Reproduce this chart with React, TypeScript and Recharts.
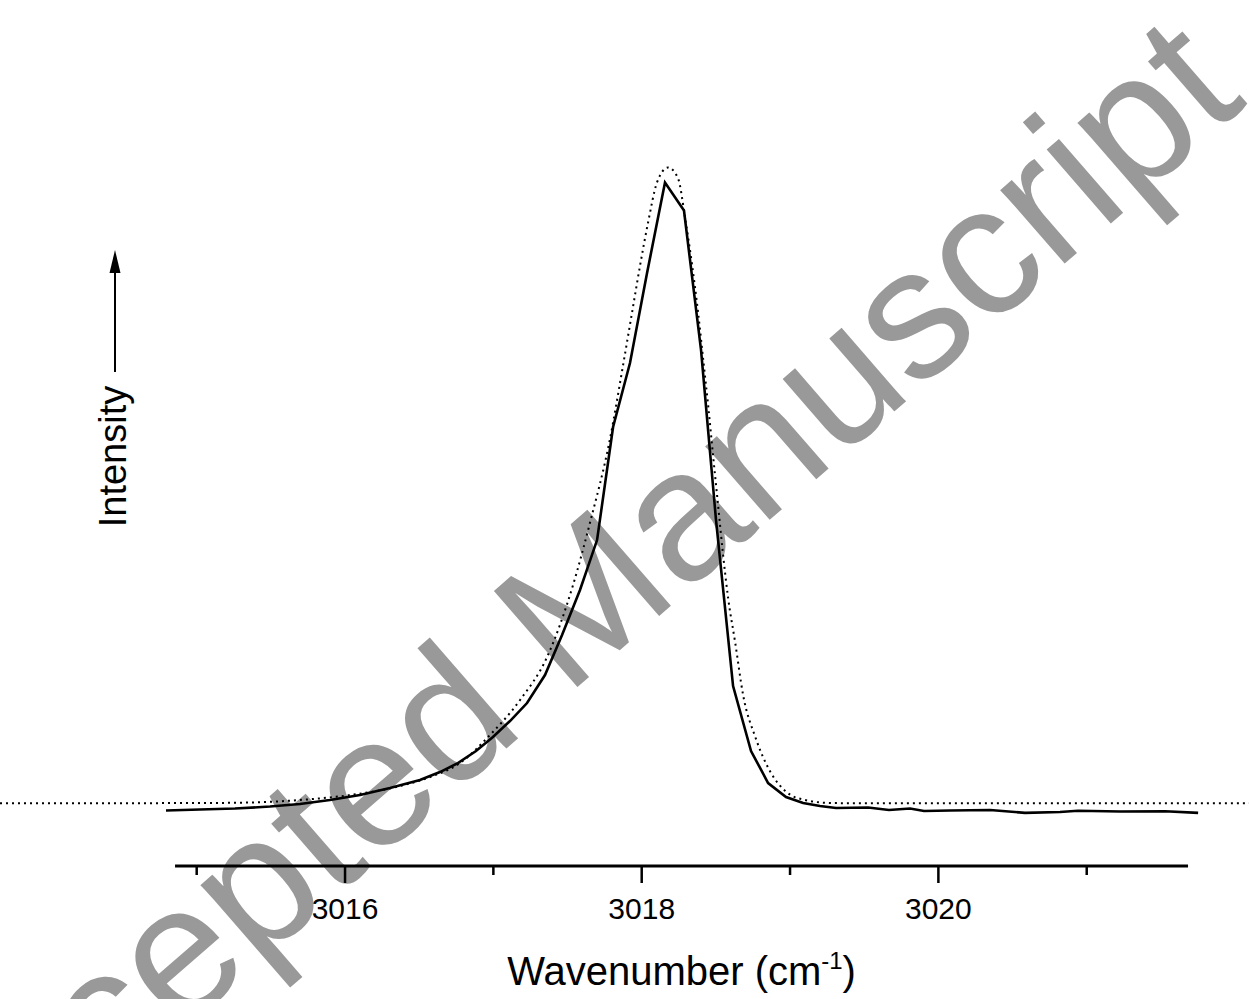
import React from 'react';
import { LineChart, Line, XAxis, YAxis, ReferenceLine, Label } from 'recharts';

// measured band (solid line)
const measuredX = [
  3014.793, 3015.022, 3015.258, 3015.494, 3015.696, 3015.898, 3016.101, 3016.303, 3016.505,
  3016.640, 3016.761, 3016.883, 3016.997, 3017.112, 3017.227, 3017.348, 3017.463, 3017.584,
  3017.699, 3017.807, 3017.921, 3018.036, 3018.157, 3018.285, 3018.400, 3018.501, 3018.616,
  3018.737, 3018.852, 3018.973, 3019.088, 3019.202, 3019.310, 3019.526, 3019.667, 3019.809,
  3019.903, 3020.079, 3020.348, 3020.584, 3020.820, 3020.941, 3021.225, 3021.528, 3021.751,
];
const measuredY = [
  -0.0115, -0.0099, -0.0083, -0.0051, -0.0011, 0.0053, 0.0132, 0.0244, 0.0372,
  0.0499, 0.0643, 0.0835, 0.1058, 0.1313, 0.16, 0.2047, 0.2686, 0.3404,
  0.4201, 0.6005, 0.7026, 0.8462, 0.9906, 0.9459, 0.7233, 0.452, 0.1872,
  0.0835, 0.0324, 0.0101, 0.0005, -0.0043, -0.0075, -0.0067, -0.0107, -0.0083,
  -0.0123, -0.0115, -0.0107, -0.0152, -0.0139, -0.0118, -0.0131, -0.0126, -0.0152,
];

// fitted profile (dotted line)
const fitX = [
  3013.674, 3015.022, 3015.359, 3015.696, 3016.033, 3016.371, 3016.573, 3016.775, 3016.977,
  3017.18, 3017.362, 3017.537, 3017.652, 3017.787, 3017.874, 3017.935, 3017.989, 3018.043,
  3018.103, 3018.178, 3018.245, 3018.293, 3018.34, 3018.38, 3018.421, 3018.448, 3018.481,
  3018.515, 3018.549, 3018.583, 3018.63, 3018.684, 3018.765, 3018.866, 3018.981, 3019.102,
  3019.271, 3019.54, 3022.094,
];
const fitY = [
  0, 0.0005, 0.0013, 0.0053, 0.0132, 0.0276, 0.042, 0.0643, 0.109,
  0.1649, 0.2335, 0.3483, 0.4484, 0.5825, 0.6987, 0.7833, 0.8583, 0.9269,
  0.9907, 1.0147, 0.9972, 0.9334, 0.8583, 0.7833, 0.694, 0.6349, 0.5551,
  0.4754, 0.3956, 0.327, 0.2568, 0.1723, 0.1064, 0.0508, 0.0172, 0.0053,
  0.0005, 0, 0,
];

const tickValues = [3015, 3016, 3017, 3018, 3019, 3020, 3021];
const labelledTicks = [3016, 3018, 3020];
const xDomain = [3013.674, 3022.094];
const yDomain = [-0.1, 1.1];
const axisStart = 3014.854;
const axisEnd = 3021.683;

const measured = measuredX.map((x, i) => ({ x, y: measuredY[i] }));
const fit = fitX.map((x, i) => ({ x, y: fitY[i] }));

const FONT = 'Liberation Sans, Arial, sans-serif';

function WaveTick(props: any) {
  const { x, y, payload } = props;
  const major = labelledTicks.includes(payload.value);
  return (
    <g>
      <line x1={x} x2={x} y1={y} y2={y + (major ? 17 : 9)} stroke="#000" strokeWidth={2.5} />
      {major && (
        <text x={x} y={y + 53} textAnchor="middle" fontSize={30} fontFamily={FONT} fill="#000">
          {payload.value}
        </text>
      )}
    </g>
  );
}

function AxisTitle(props: any) {
  const vb = props.viewBox;
  const mid = (axisStart + axisEnd) / 2;
  const cx = vb.x + ((mid - xDomain[0]) / (xDomain[1] - xDomain[0])) * vb.width;
  return (
    <text x={cx} y={vb.y + 119} textAnchor="middle" fontSize={40} fontFamily={FONT} fill="#000">
      Wavenumber (cm
      <tspan fontSize={24} dy={-16}>-1</tspan>
      <tspan dy={16}>)</tspan>
    </text>
  );
}

export default function App() {
  return (
    <div style={{ position: 'absolute', left: 0, top: 0, width: 1249, height: 999, background: '#fff' }}>
      <svg width={1249} height={999} style={{ position: 'absolute', left: 0, top: 0 }}>
        <text
          x={597}
          y={670}
          textAnchor="middle"
          fontSize={185}
          fontFamily={FONT}
          fill="#999"
          transform="rotate(-41 597 670)"
        >
          Accepted Manuscript
        </text>
        <line x1={115} x2={115} y1={372} y2={268} stroke="#000" strokeWidth={2} />
        <polygon points="115,250 109.5,273 120.5,273" fill="#000" />
        <text
          x={126}
          y={456.5}
          textAnchor="middle"
          fontSize={38}
          fontFamily={FONT}
          fill="#000"
          transform="rotate(-90 126 456.5)"
        >
          Intensity
        </text>
      </svg>
      <div style={{ position: 'absolute', left: 0, top: 0 }}>
        <LineChart width={1249} height={999} margin={{ top: 114, right: 0, left: 0, bottom: 0 }}>
          <XAxis
            dataKey="x"
            type="number"
            domain={xDomain}
            ticks={tickValues}
            interval={0}
            allowDataOverflow
            axisLine={false}
            tickLine={false}
            tickSize={0}
            tickMargin={0}
            height={133}
            tick={<WaveTick />}
          >
            <Label content={<AxisTitle />} />
          </XAxis>
          <YAxis type="number" domain={yDomain} hide allowDataOverflow />
          <ReferenceLine
            segment={[{ x: axisStart, y: -0.1 }, { x: axisEnd, y: -0.1 }]}
            stroke="#000"
            strokeWidth={3}
            ifOverflow="visible"
          />
          <Line
            data={fit}
            dataKey="y"
            type="monotone"
            stroke="#000"
            strokeWidth={2}
            strokeDasharray="2 4"
            dot={false}
            isAnimationActive={false}
          />
          <Line
            data={measured}
            dataKey="y"
            type="linear"
            stroke="#000"
            strokeWidth={2.6}
            dot={false}
            isAnimationActive={false}
          />
        </LineChart>
      </div>
    </div>
  );
}
